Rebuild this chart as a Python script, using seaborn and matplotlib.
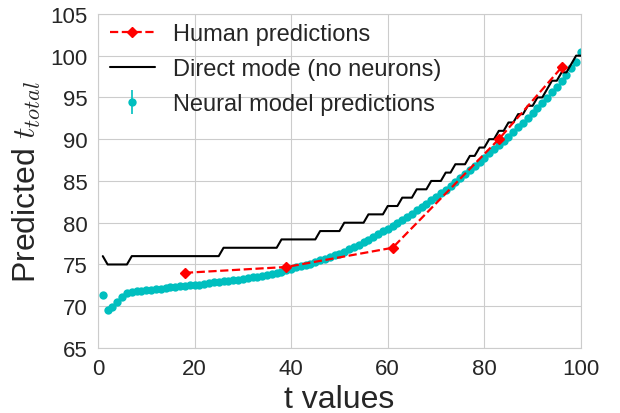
import numpy as np
import matplotlib
matplotlib.use("Agg")
import matplotlib.pyplot as plt
import seaborn as sns

# Dados
t_vals = list(range(1, 101))

human_t = [18, 39, 61, 83, 96]
human_pred = [74.0, 74.7, 77.0, 90.0, 98.6]

direct_pred = [76] + [75] * 5 + [76] * 19 + [77] * 12 + [78] * 8 + [79] * 5 + \
    [80] * 5 + [81] * 4 + [82] * 3 + [83] * 3 + [84] * 3 + [85] * 3 + [86] * 2 + \
    [87] * 3 + [88] * 2 + [89] * 2 + [90] * 2 + [91] * 2 + [92] * 2 + [93] * 2 + \
    [94] * 2 + [95] * 2 + [96] * 1 + [97] * 2 + [98] * 2 + [99] * 1 + [100] * 2

neural_pred = [71.3, 69.55, 69.9, 70.5, 71.1, 71.55, 71.7, 71.8, 71.85, 71.95,
               72.0, 72.05, 72.1, 72.2, 72.3, 72.35, 72.4, 72.45, 72.5, 72.55,
               72.6, 72.7, 72.8, 72.9, 72.95, 73.0, 73.05, 73.1, 73.15, 73.25,
               73.35, 73.45, 73.55, 73.65, 73.75, 73.85, 73.95, 74.1, 74.3, 74.5,
               74.65, 74.8, 74.95, 75.1, 75.3, 75.5, 75.7, 75.9, 76.1, 76.3,
               76.55, 76.8, 77.05, 77.35, 77.65, 77.95, 78.3, 78.6, 78.95, 79.3,
               79.65, 80.0, 80.35, 80.7, 81.1, 81.5, 81.9, 82.3, 82.7, 83.1,
               83.5, 83.95, 84.4, 84.85, 85.3, 85.8, 86.3, 86.8, 87.3, 87.8,
               88.3, 88.8, 89.3, 89.8, 90.3, 90.85, 91.4, 91.95, 92.5, 93.1,
               93.7, 94.3, 94.9, 95.6, 96.3, 97.0, 97.7, 98.5, 99.3, 100.4]
neural_err = [0.1] * 100

sns.set_style("whitegrid")
plt.rcParams['font.family'] = ['Liberation Sans', 'DejaVu Sans']
plt.rcParams['mathtext.fontset'] = 'cm'

fig = plt.figure(figsize=(6.2, 4.14), dpi=100)
ax = fig.add_axes([0.158, 0.157, 0.779, 0.807])

l1, = ax.plot(human_t, human_pred, 'r--', marker='D', markersize=5, lw=1.6,
              label='Human predictions', zorder=4)
l2, = ax.plot(t_vals, direct_pred, 'k-', lw=1.5, label='Direct mode (no neurons)', zorder=3)
l3 = ax.errorbar(t_vals, neural_pred, yerr=neural_err, fmt='o', color=(0, 0.75, 0.75),
                 markersize=6, markeredgewidth=0, capsize=4, elinewidth=1.2,
                 label='Neural model predictions', zorder=2)

ax.set_xlim(0, 100)
ax.set_ylim(65, 105)
ax.set_xticks(range(0, 101, 20))
ax.set_yticks(range(65, 106, 5))
ax.tick_params(labelsize=16, colors='#262626', pad=4)
ax.set_xlabel('t values', fontsize=23, color='#262626', labelpad=3)
ax.set_ylabel('Predicted $t_{total}$', fontsize=23, color='#262626', labelpad=5)

ax.legend(handles=[l1, l2, l3], loc='upper left', bbox_to_anchor=(-0.005, 1.015),
          fontsize=17, frameon=False, handlelength=1.9, handletextpad=0.8,
          borderaxespad=0.2, labelspacing=0.55)

fig.savefig('out.png', dpi=100)
